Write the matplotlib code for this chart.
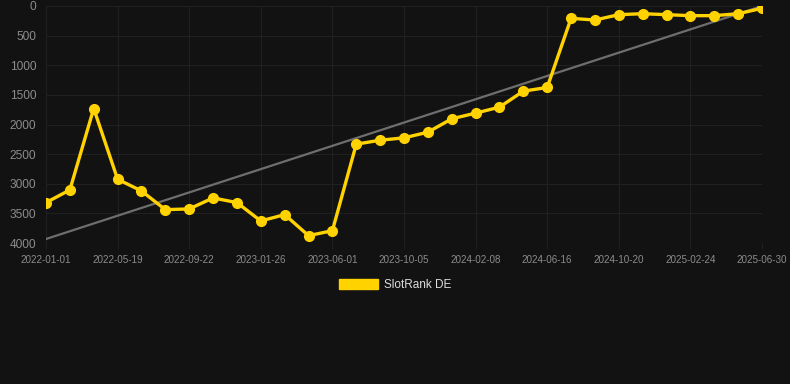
import numpy as np
import matplotlib
matplotlib.use('Agg')
import matplotlib.pyplot as plt
from matplotlib.patches import Patch

plt.rcParams['font.family'] = ['Liberation Sans', 'DejaVu Sans']

# tick labels on the x axis (every 3rd point)
tick_labels = ['2022-01-01', '2022-05-19', '2022-09-22', '2023-01-26', '2023-06-01',
               '2023-10-05', '2024-02-08', '2024-06-16', '2024-10-20', '2025-02-24',
               '2025-06-30']

# rank values, one every ~42 days
rank = [3318, 3104, 1730, 2924, 3121, 3437, 3425, 3239, 3318, 3628, 3521,
        3876, 3792, 2332, 2265, 2225, 2130, 1904, 1808, 1707, 1437, 1375,
        208, 237, 146, 130, 146, 163, 163, 130, 39]

bg = '#121212'
gold = '#FFD200'

x = np.arange(len(rank))
k, b = np.polyfit(x, rank, 1)

fig = plt.figure(figsize=(7.9, 3.84), dpi=100, facecolor=bg)
ax = fig.add_axes([46 / 790, 1 - 243 / 384, (762 - 46) / 790, (243 - 6) / 384])
ax.set_facecolor(bg)

# trend line
ax.plot(x, k * x + b, color='#6e6e6e', lw=1.6, zorder=2)

# rank line
ax.plot(x, rank, color=gold, lw=2.4, marker='o', markersize=7, zorder=3)

ax.set_xlim(0, len(rank) - 1)
ax.set_ylim(4000, 0)
ax.set_yticks(range(0, 4001, 500))
ax.set_xticks(x[::3])
ax.set_xticklabels(tick_labels)

ax.grid(True, color='#202020', lw=0.8)
for s in ax.spines.values():
    s.set_visible(False)
ax.tick_params(axis='y', colors='#8c8c8c', labelsize=8.6, length=0, pad=7)
ax.tick_params(axis='x', colors='#202020', labelcolor='#8c8c8c', labelsize=7.1,
               length=4, width=0.8, pad=4.5)

# legend under the chart
leg = fig.legend(handles=[Patch(facecolor=gold, edgecolor=gold)], labels=['SlotRank DE'],
                 loc='center', bbox_to_anchor=(0.5, 1 - 285 / 384), frameon=False,
                 handlelength=3.3, handleheight=0.9, handletextpad=0.5, fontsize=8.5)
for t in leg.get_texts():
    t.set_color('#dddddd')

fig.savefig('out.png', dpi=100, facecolor=bg)
